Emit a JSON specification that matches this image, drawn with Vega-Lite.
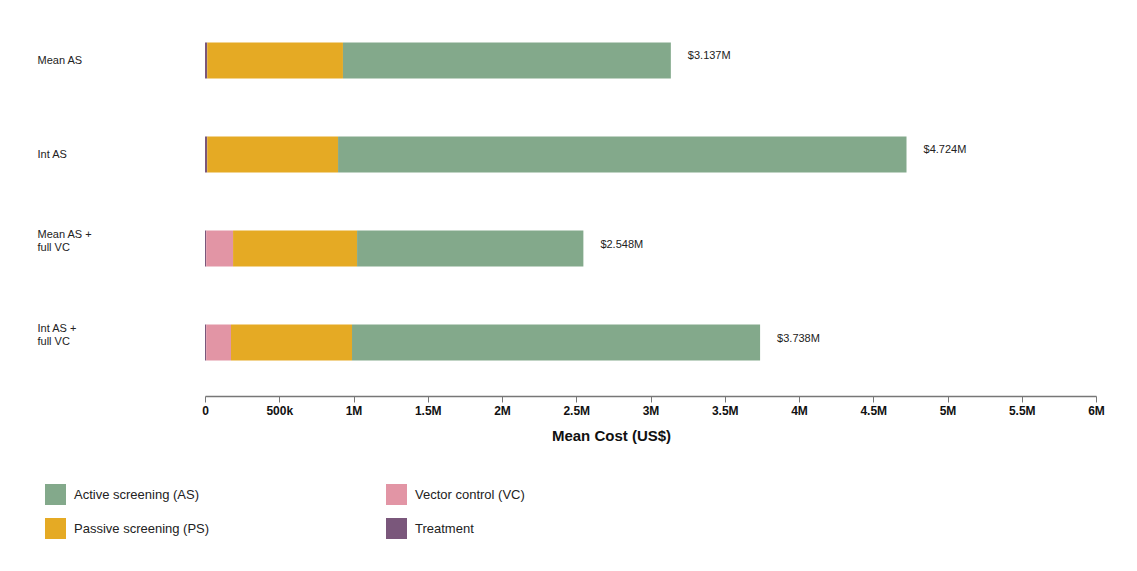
{
  "$schema": "https://vega.github.io/schema/vega-lite/v6.json",
  "width": 891,
  "height": 375,
  "autosize": {"type": "none"},
  "padding": {"left": 205, "top": 14, "right": 41, "bottom": 182},
  "background": "white",
  "config": {
    "view": {"stroke": null},
    "font": "Liberation Sans"
  },
  "datasets": {
    "segments": [
      {"scenario": "Mean AS", "component": "Treatment", "cost": 15000},
      {"scenario": "Mean AS", "component": "Passive screening (PS)", "cost": 914000},
      {"scenario": "Mean AS", "component": "Active screening (AS)", "cost": 2208000},
      {"scenario": "Int AS", "component": "Treatment", "cost": 15000},
      {"scenario": "Int AS", "component": "Passive screening (PS)", "cost": 881000},
      {"scenario": "Int AS", "component": "Active screening (AS)", "cost": 3828000},
      {"scenario": "Mean AS +|full VC", "component": "Treatment", "cost": 8000},
      {"scenario": "Mean AS +|full VC", "component": "Vector control (VC)", "cost": 181000},
      {"scenario": "Mean AS +|full VC", "component": "Passive screening (PS)", "cost": 835000},
      {"scenario": "Mean AS +|full VC", "component": "Active screening (AS)", "cost": 1524000},
      {"scenario": "Int AS +|full VC", "component": "Treatment", "cost": 8000},
      {"scenario": "Int AS +|full VC", "component": "Vector control (VC)", "cost": 167000},
      {"scenario": "Int AS +|full VC", "component": "Passive screening (PS)", "cost": 815000},
      {"scenario": "Int AS +|full VC", "component": "Active screening (AS)", "cost": 2748000}
    ],
    "totals": [
      {"scenario": "Mean AS", "total": 3137000, "label": "$3.137M"},
      {"scenario": "Int AS", "total": 4724000, "label": "$4.724M"},
      {"scenario": "Mean AS +|full VC", "total": 2548000, "label": "$2.548M"},
      {"scenario": "Int AS +|full VC", "total": 3738000, "label": "$3.738M"}
    ]
  },
  "layer": [
    {
      "data": {"name": "segments"},
      "transform": [
        {"calculate": "indexof(['Treatment','Vector control (VC)','Passive screening (PS)','Active screening (AS)'], datum.component)", "as": "ord"}
      ],
      "mark": {"type": "bar"},
      "encoding": {
        "y": {
          "field": "scenario",
          "type": "nominal",
          "sort": ["Mean AS", "Int AS", "Mean AS +|full VC", "Int AS +|full VC"],
          "scale": {"paddingInner": 0.617, "paddingOuter": 0.303},
          "axis": {
            "title": null,
            "domain": false,
            "ticks": false,
            "labelAlign": "left",
            "labelBaseline": "middle",
            "labelPadding": 168,
            "labelFontSize": 11,
            "labelColor": "#222",
            "labelLineHeight": 13,
            "labelOffset": {"condition": {"test": "indexof(datum.value, '|') >= 0", "value": -14}, "value": 1},
            "labelExpr": "split(datum.label, '|')"
          }
        },
        "x": {
          "field": "cost",
          "type": "quantitative",
          "stack": "zero",
          "scale": {"domain": [0, 6000000], "nice": false},
          "axis": {
            "title": "Mean Cost (US$)",
            "tickCount": 12,
            "labelExpr": "datum.value == 0 ? '0' : datum.value < 1000000 ? format(datum.value / 1000, '~g') + 'k' : format(datum.value / 1000000, '~g') + 'M'",
            "labelFlush": false,
            "labelOverlap": false,
            "grid": false,
            "offset": 7,
            "domainColor": "#777",
            "domainWidth": 1.5,
            "tickColor": "#777",
            "tickSize": 6,
            "labelFontSize": 12,
            "labelFontWeight": "bold",
            "labelColor": "#111",
            "labelPadding": 3,
            "titleFontSize": 15,
            "titleFontWeight": "bold",
            "titleColor": "#111",
            "titleX": 406,
            "titleY": 32,
            "titleAnchor": "middle"
          }
        },
        "color": {
          "field": "component",
          "type": "nominal",
          "scale": {
            "domain": ["Active screening (AS)", "Vector control (VC)", "Passive screening (PS)", "Treatment"],
            "range": ["#83a98b", "#e295a5", "#e5aa24", "#7a577b"]
          },
          "legend": {
            "title": null,
            "orient": "none",
            "legendX": -160,
            "legendY": 470,
            "direction": "horizontal",
            "columns": 2,
            "symbolType": "square",
            "symbolSize": 441,
            "symbolStrokeWidth": 0,
            "symbolOpacity": 1,
            "labelFontSize": 13,
            "labelColor": "#222",
            "labelOffset": 8,
            "rowPadding": 13,
            "columnPadding": 176,
            "labelLimit": 300
          }
        },
        "order": {"field": "ord", "type": "quantitative", "sort": "ascending"}
      }
    },
    {
      "data": {"name": "totals"},
      "mark": {"type": "text", "align": "left", "baseline": "middle", "dx": 17, "dy": -4, "fontSize": 11, "color": "#222"},
      "encoding": {
        "y": {"field": "scenario", "type": "nominal", "sort": ["Mean AS", "Int AS", "Mean AS +|full VC", "Int AS +|full VC"]},
        "x": {"field": "total", "type": "quantitative"},
        "text": {"field": "label"}
      }
    }
  ]
}
